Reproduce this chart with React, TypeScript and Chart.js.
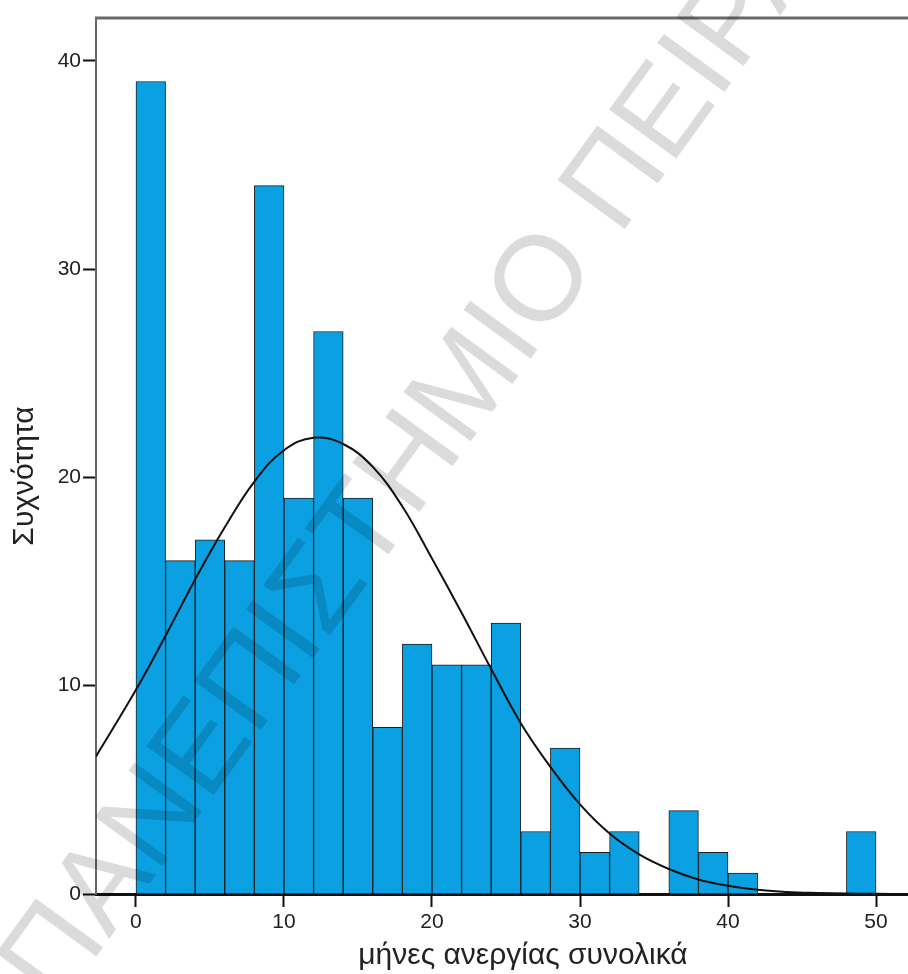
import React, { useEffect, useRef } from "react";
import { Chart, registerables } from "chart.js";

Chart.register(...registerables);

// Histogram bins (width 2 months): centers and frequencies
const binCenters = [1, 3, 5, 7, 9, 11, 13, 15, 17, 19, 21, 23, 25, 27, 29, 31, 33, 35, 37, 39, 41, 43, 45, 47, 49];
const binCounts = [39, 16, 17, 16, 34, 19, 27, 19, 8, 12, 11, 11, 13, 3, 7, 2, 3, 0, 4, 2, 1, 0, 0, 0, 3];

// Normal curve
const curveX = [-2.7, 0, 2, 4, 6, 8, 10, 12, 14, 16, 18, 20, 22, 24, 26, 28, 30, 32, 34, 36, 38, 40, 42, 44, 46, 48, 50, 52];
const curveY = [6.6, 9.8, 12.4, 15.1, 17.6, 19.8, 21.3, 21.9, 21.6, 20.5, 18.6, 16.1, 13.5, 10.8, 8.2, 6.1, 4.3, 2.9, 1.9, 1.2, 0.7, 0.4, 0.2, 0.1, 0.05, 0.02, 0.01, 0.0];

const xTicks = [0, 10, 20, 30, 40, 50];
const yTicks = [0, 10, 20, 30, 40];

const X_MIN = -2.7;
const X_MAX = 52.16;
const Y_MIN = 0;
const Y_MAX = 42.05;

const xTitle = "μήνες ανεργίας συνολικά";
const yTitle = "Συχνότητα";
const watermark = "ΠΑΝΕΠΙΣΤΗΜΙΟ ΠΕΙΡΑΙΩΣ";
const watermarkPrefix = "ΠΑΝΕΠΙΣΤΗΜΙΟ ";

const FONT = '"Liberation Sans", Arial, sans-serif';

const framePlugin = {
  id: "frameAndTitles",
  beforeDatasetsDraw(chart: any) {
    const { ctx, chartArea } = chart;
    ctx.save();
    ctx.strokeStyle = "#6a6a6a";
    ctx.lineWidth = 3;
    ctx.beginPath();
    ctx.moveTo(chartArea.left - 1, chartArea.top);
    ctx.lineTo(chartArea.right, chartArea.top);
    ctx.stroke();
    ctx.restore();
  },
  afterDraw(chart: any) {
    const { ctx, chartArea } = chart;
    ctx.save();
    ctx.fillStyle = "#222";
    ctx.font = `30px ${FONT}`;
    ctx.textAlign = "center";
    ctx.textBaseline = "middle";
    ctx.fillText(xTitle, (chartArea.left + chartArea.right) / 2 + 21, 956);
    ctx.translate(25, (chartArea.top + chartArea.bottom) / 2 + 20);
    ctx.rotate(-Math.PI / 2);
    ctx.fillText(yTitle, 0, 0);
    ctx.restore();

    // watermark
    ctx.save();
    ctx.font = `121px ${FONT}`;
    ctx.fillStyle = "rgba(0,0,0,0.14)";
    ctx.textAlign = "left";
    ctx.textBaseline = "alphabetic";
    ctx.translate(625, 229);
    ctx.rotate((-54 * Math.PI) / 180);
    const pre = ctx.measureText(watermarkPrefix).width;
    ctx.fillText(watermark, -pre - 10, 0);
    ctx.restore();
  },
};

export default function App() {
  const ref = useRef<HTMLCanvasElement | null>(null);

  useEffect(() => {
    document.body.style.margin = "0";
    const canvas = ref.current;
    if (!canvas) return;
    const chart = new Chart(canvas, {
      type: "bar",
      data: {
        datasets: [
          {
            type: "line",
            data: curveX.map((x, i) => ({ x, y: curveY[i] })),
            borderColor: "#111",
            borderWidth: 2,
            pointRadius: 0,
            tension: 0.4,
            fill: false,
            order: 0,
          } as any,
          {
            type: "bar",
            data: binCenters.map((x, i) => ({ x, y: binCounts[i] })),
            backgroundColor: "#0aa0e2",
            borderColor: "#1e1e1e",
            borderWidth: 1,
            barPercentage: 1,
            categoryPercentage: 1,
            order: 1,
          } as any,
        ],
      },
      options: {
        animation: false,
        responsive: true,
        maintainAspectRatio: false,
        layout: { padding: { top: 18, right: 0, left: 0, bottom: 0 } },
        plugins: { legend: { display: false }, tooltip: { enabled: false } },
        scales: {
          x: {
            type: "linear",
            min: X_MIN,
            max: X_MAX,
            offset: false,
            z: 1,
            grid: {
              display: true,
              offset: false,
              drawOnChartArea: false,
              drawTicks: true,
              tickLength: 13,
              tickColor: "#111",
              tickWidth: 2,
            },
            border: { display: true, color: "#111", width: 3 },
            ticks: {
              font: { family: FONT, size: 21 },
              color: "#222",
              padding: 3,
              maxRotation: 0,
              autoSkip: false,
            },
            afterBuildTicks: (s: any) => {
              s.ticks = xTicks.map((v) => ({ value: v }));
            },
            afterFit: (s: any) => {
              s.height = 80;
            },
          },
          y: {
            min: Y_MIN,
            max: Y_MAX,
            grid: {
              display: true,
              offset: false,
              drawOnChartArea: false,
              drawTicks: true,
              tickLength: 13,
              tickColor: "#111",
              tickWidth: 2,
            },
            border: { display: true, color: "#666", width: 2 },
            ticks: {
              font: { family: FONT, size: 21 },
              color: "#222",
              padding: 2,
            },
            afterBuildTicks: (s: any) => {
              s.ticks = yTicks.map((v) => ({ value: v }));
            },
            afterFit: (s: any) => {
              s.width = 96;
            },
          },
        },
      } as any,
      plugins: [framePlugin],
    });
    return () => chart.destroy();
  }, []);

  return (
    <div style={{ position: "relative", width: 908, height: 974, background: "#fff" }}>
      <canvas ref={ref} />
    </div>
  );
}
